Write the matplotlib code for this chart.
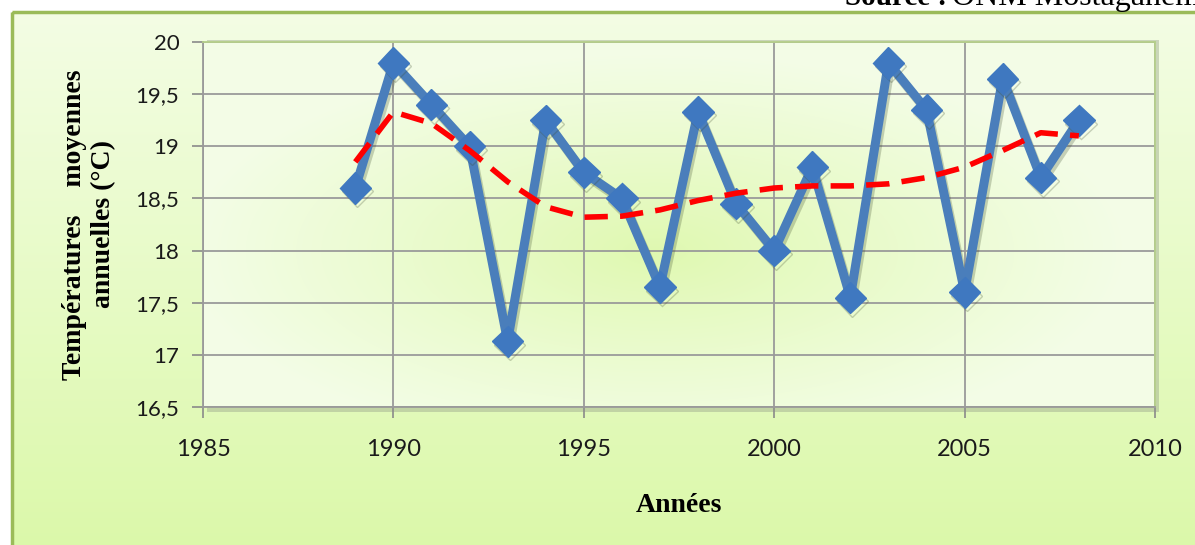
import numpy as np
import matplotlib
matplotlib.use("Agg")
import matplotlib.pyplot as plt
import matplotlib.patheffects as pe
from matplotlib.patches import Rectangle
from matplotlib.ticker import FuncFormatter

# mean annual temperatures, Mostaganem
annees = [1989, 1990, 1991, 1992, 1993, 1994, 1995, 1996, 1997, 1998,
          1999, 2000, 2001, 2002, 2003, 2004, 2005, 2006, 2007, 2008]
temperatures = [18.6, 19.8, 19.4, 19.0, 17.13, 19.25, 18.75, 18.5, 17.65, 19.33,
                18.45, 18.0, 18.8, 17.55, 19.8, 19.35, 17.6, 19.65, 18.7, 19.25]
# polynomial trend
tendance = [18.85, 19.33, 19.22, 18.96, 18.66, 18.42, 18.32, 18.33, 18.39, 18.48,
            18.55, 18.6, 18.62, 18.62, 18.64, 18.7, 18.8, 18.96, 19.13, 19.1]

x_ticks = [1985, 1990, 1995, 2000, 2005, 2010]
y_ticks = [16.5, 17, 17.5, 18, 18.5, 19, 19.5, 20]

tick_font = ["Lato", "DejaVu Sans"]
serif = ["Liberation Serif", "DejaVu Serif"]

fig = plt.figure(figsize=(11.95, 5.45), dpi=100)
fig.patch.set_facecolor("white")

# background of the chart frame: vertical light-to-green gradient
bg = fig.add_axes([0, 0, 1, 1], zorder=0)
bg.set_xlim(0, 1195)
bg.set_ylim(545, 0)
bg.axis("off")
t = np.linspace(0, 1, 256).reshape(-1, 1)
c_top = np.array([0.955, 0.992, 0.895])
c_bot = np.array([0.860, 0.975, 0.665])
grad = c_top + (c_bot - c_top) * t[..., None]
grad = np.repeat(grad, 2, axis=1)
bg.imshow(grad, extent=[12, 1200, 550, 12], aspect="auto", zorder=0)
bg.add_patch(Rectangle((12, 12), 1200, 550, fill=False, edgecolor="#9bbb59",
                       linewidth=2.5, zorder=2))
# shadow under the plot area
bg.add_patch(Rectangle((207, 40), 952, 372, facecolor="#9aa68c", alpha=0.45,
                       edgecolor="none", zorder=1))

fig.text(845 / 1195, 1 - 5 / 545, "Source :", ha="left", va="baseline",
         fontsize=21, fontweight="bold", family=serif, zorder=5)
fig.text(952 / 1195, 1 - 5 / 545, "ONM Mostaganem", ha="left", va="baseline",
         fontsize=23, family=serif, zorder=5)

ax = fig.add_axes([203 / 1195, 1 - 407 / 545, 952 / 1195, 365 / 545], zorder=2)

# plot area: soft radial gradient, greener in the middle
gx, gy = np.meshgrid(np.linspace(-1, 1, 300), np.linspace(-1, 1, 150))
r = np.clip(np.sqrt(((gx + 0.05) / 1.0) ** 2 + ((gy - 0.15) / 1.1) ** 2), 0, 1)
c_in = np.array([0.875, 0.975, 0.690])
c_out = np.array([0.955, 0.992, 0.905])
plot_bg = c_in + (c_out - c_in) * r[..., None] ** 0.9
ax.imshow(plot_bg, extent=[1985, 2010, 16.5, 20], aspect="auto", zorder=0,
          interpolation="bilinear")

ax.set_xlim(1985, 2010)
ax.set_ylim(16.5, 20)
ax.set_xticks(x_ticks)
ax.set_yticks(y_ticks)
ax.yaxis.set_major_formatter(FuncFormatter(lambda v, p: f"{v:g}".replace(".", ",")))
ax.grid(True, color="#9a9a9a", linewidth=1.3, zorder=1)
ax.set_axisbelow(True)

for name, sp in ax.spines.items():
    sp.set_color("#9a9a9a")
    sp.set_linewidth(1.3)
ax.spines["top"].set_color("#b5cf8a")
ax.spines["right"].set_color("#b5cf8a")

ax.tick_params(axis="y", direction="out", length=8, width=1.2, color="#8a8a8a",
               pad=9, labelsize=16)
ax.tick_params(axis="x", direction="out", length=8, width=1.2, color="#8a8a8a",
               pad=15, labelsize=17)
for lab in ax.get_yticklabels() + ax.get_xticklabels():
    lab.set_family(tick_font)
    lab.set_color("#1a1a1a")

shadow = [pe.SimpleLineShadow(offset=(1.5, -2.5), shadow_color="#3a4a2a", alpha=0.25),
          pe.Normal()]
ax.plot(annees, temperatures, color="#4a7ebb", linewidth=6.5, marker="D",
        markersize=16, markerfacecolor="#3f78c0", markeredgecolor="#3f78c0",
        zorder=3, path_effects=shadow)
ax.plot(annees, tendance, color="#ff0000", linewidth=4, linestyle=(0, (4.2, 2.2)),
        zorder=4)

ax.set_xlabel("Années", fontsize=20, fontweight="bold", family=serif,
              labelpad=24)
ax.set_ylabel("Températures    moyennes\nannuelles (°C)", fontsize=20,
              fontweight="bold", family=serif, labelpad=14, linespacing=1.2)

fig.savefig("out.png", dpi=100)
